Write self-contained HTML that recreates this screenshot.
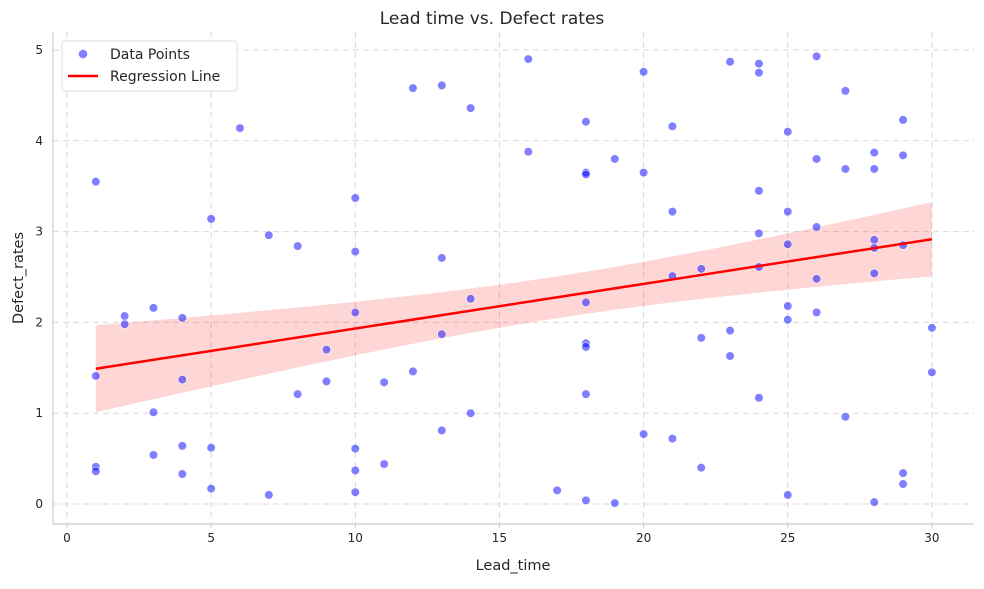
<!DOCTYPE html>
<html><head><meta charset="utf-8"><style>
body{margin:0;background:#fff;font-family:"Liberation Sans","DejaVu Sans",sans-serif}
svg text{font-family:"DejaVu Sans","Liberation Sans",sans-serif;fill:#262626}
</style></head><body>
<svg id="c" width="984" height="584"></svg>
<script>
const xVals=[1,1,1,1,2,2,3,3,3,4,4,4,4,5,5,5,6,7,7,8,8,9,9,10,10,10,10,10,10,11,11,12,12,13,13,13,13,14,14,14,16,16,17,18,18,18,18,18,18,18,18,19,19,20,20,20,21,21,21,21,22,22,22,23,23,23,24,24,24,24,24,24,25,25,25,25,25,25,26,26,26,26,26,27,27,27,28,28,28,28,28,28,29,29,29,29,29,30,30];
const yVals=[3.55,1.41,0.41,0.36,2.07,1.98,2.16,1.01,0.54,2.05,1.37,0.64,0.33,3.14,0.62,0.17,4.14,2.96,0.10,2.84,1.21,1.70,1.35,3.37,2.78,2.11,0.61,0.37,0.13,1.34,0.44,4.58,1.46,4.61,2.71,1.87,0.81,4.36,2.26,1.00,4.90,3.88,0.15,4.21,3.65,3.63,2.22,1.77,1.73,1.21,0.04,3.80,0.01,4.76,3.65,0.77,4.16,3.22,2.51,0.72,2.59,1.83,0.40,4.87,1.91,1.63,4.85,4.75,3.45,2.98,2.61,1.17,4.10,3.22,2.86,2.18,2.03,0.10,4.93,3.80,3.05,2.48,2.11,4.55,3.69,0.96,3.87,3.69,2.91,2.82,2.54,0.02,4.23,3.84,2.85,0.34,0.22,1.94,1.45];
const xTicks=[0,5,10,15,20,25,30];
const yTicks=[0,1,2,3,4,5];
const NS="http://www.w3.org/2000/svg";
const svg=document.getElementById('c');
const L=53,R=974,T=32,B=524;
const X=v=>67+v*28.83, Y=v=>504-v*90.8;
function el(t,a,p){const e=document.createElementNS(NS,t);for(const k in a)e.setAttribute(k,a[k]);(p||svg).appendChild(e);return e;}
xTicks.forEach(t=>{const g=el('line',{x1:X(t),x2:X(t),y1:T,y2:B,stroke:'#d9d9d9','stroke-dasharray':'6,4'});

const l=el('text',{x:X(t),y:B+18,'text-anchor':'middle','font-size':12});l.textContent=t;

el('line',{x1:X(t),x2:X(t),y1:B,y2:B+4,stroke:'#ccc'});});
yTicks.forEach(t=>{const g=el('line',{x1:L,x2:R,y1:Y(t),y2:Y(t),stroke:'#d9d9d9','stroke-dasharray':'6,4'});

const l=el('text',{x:L-10,y:Y(t)+4,'text-anchor':'end','font-size':12});l.textContent=t;
});
const n=xVals.length,mx=xVals.reduce((a,b)=>a+b)/n,my=yVals.reduce((a,b)=>a+b)/n;
let sxx=0,sxy=0;xVals.forEach((x,i)=>{sxx+=(x-mx)**2;sxy+=(x-mx)*(yVals[i]-my);});
const b=sxy/sxx,a=my-b*mx;let sse=0;xVals.forEach((x,i)=>sse+=(yVals[i]-a-b*x)**2);
const s=Math.sqrt(sse/(n-2));const xmin=Math.min(...xVals),xmax=Math.max(...xVals);
let up=[],lo=[];for(let i=0;i<=60;i++){const x=xmin+(xmax-xmin)*i/60;const yh=a+b*x;const se=1.63*s*Math.sqrt(1/n+(x-mx)**2/sxx);up.push(X(x)+','+Y(yh+se));lo.unshift(X(x)+','+Y(yh-se));}
const band=el('polygon',{points:up.concat(lo).join(' '),fill:'#ff0000','fill-opacity':0.16});

xVals.forEach((x,i)=>{const c=el('circle',{cx:X(x),cy:Y(yVals[i]),r:4.3,fill:'#0000ff','fill-opacity':0.5,stroke:'#fff','stroke-width':0.6});
});
const rl=el('line',{x1:X(xmin),y1:Y(a+b*xmin),x2:X(xmax),y2:Y(a+b*xmax),stroke:'#ff0000','stroke-width':2.5});

el('line',{x1:L,x2:L,y1:T,y2:B,stroke:'#ccc','stroke-width':1.2});
el('line',{x1:L,x2:R,y1:B,y2:B,stroke:'#ccc','stroke-width':1.2});
let t=el('text',{x:492,y:24,'text-anchor':'middle','font-size':17});t.textContent='Lead time vs. Defect rates';

t=el('text',{x:513,y:570,'text-anchor':'middle','font-size':14.5});t.textContent='Lead_time';

t=el('text',{x:23,y:278,'text-anchor':'middle','font-size':14.5,transform:'rotate(-90 23 278)'});t.textContent='Defect_rates';

const lg=el('g',{});
el('rect',{x:62,y:41,width:175,height:50,rx:3,fill:'#fff','fill-opacity':0.85,stroke:'#ddd'},lg);
el('circle',{cx:83,cy:54,r:4.3,fill:'#0000ff','fill-opacity':0.5},lg);
t=el('text',{x:110,y:59,'font-size':14},lg);t.textContent='Data Points';

el('line',{x1:68,x2:98,y1:76,y2:76,stroke:'#f00','stroke-width':2.5},lg);
t=el('text',{x:110,y:81,'font-size':14},lg);t.textContent='Regression Line';

</script>
</body></html>
